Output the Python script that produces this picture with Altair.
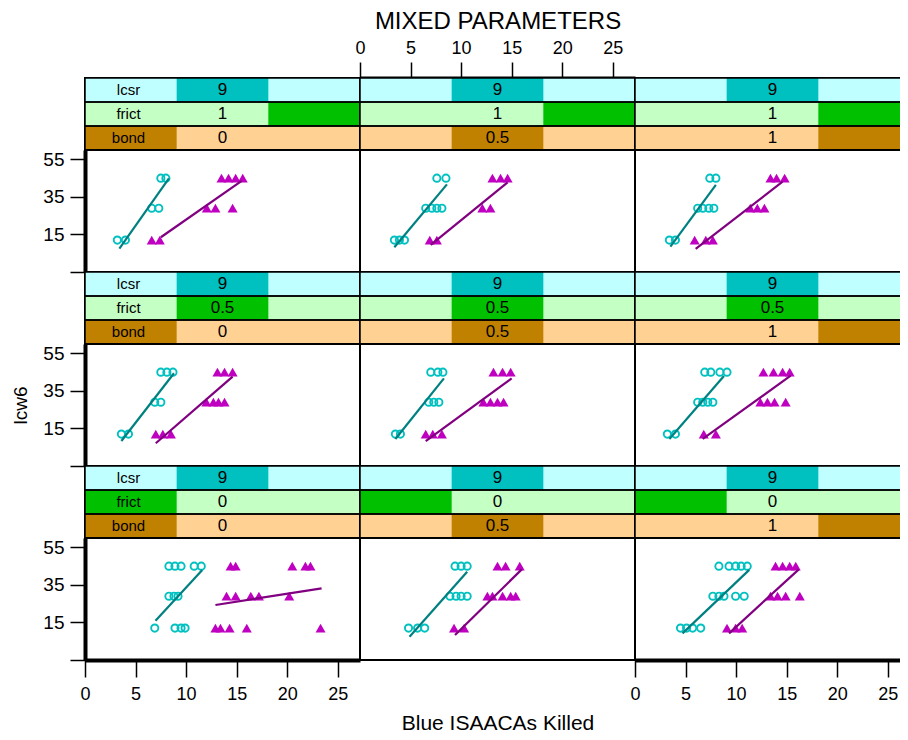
import altair as alt
import pandas as pd

FONT = "Liberation Sans, Arial, sans-serif"

# ---------------- axis / layout values ----------------
x_domain = [0, 27.2]
y_domain = [-5, 60]
x_ticks = [0, 5, 10, 15, 20, 25]
y_ticks = [-5, 15, 35, 55]
y_levels = [45, 29, 12]  # top, middle, bottom row of points

# ---------------- conditioning variables ----------------
frict_rows = [1, 0.5, 0]          # panel rows, top to bottom
frict_row_text = ["1", "0.5", "0"]
bond_cols = [0, 0.5, 1]           # panel columns, left to right
bond_col_text = ["0", "0.5", "1"]
frict_levels = [0, 0.5, 1]
bond_levels = [0, 0.5, 1]
lcsr_text = "9"
lcsr_level_index = 1
strip_names = ["lcsr", "frict", "bond"]
strip_light = ["#C0FFFF", "#C4FFC4", "#FFD293"]
strip_dark = ["#00C0C0", "#00C000", "#C08000"]

# ---------------- points: x values at y_levels (top, mid, low) ----------------
cyan_f1_b0 = [[7.5, 8.0], [6.6, 7.3], [3.2, 4.0]]
mag_f1_b0 = [[13.5, 14.2, 14.9, 15.6], [12.05, 12.9, 14.6], [6.6, 7.4]]
cyan_f1_b05 = [[7.6, 8.5], [6.5, 7.1, 7.6, 8.1], [3.4, 3.9, 4.4]]
mag_f1_b05 = [[13.1, 13.9, 14.6], [12.1, 12.9], [6.9, 7.6]]
cyan_f1_b1 = [[7.4, 8.0], [6.2, 6.7, 7.3, 7.8], [3.4, 4.0]]
mag_f1_b1 = [[13.4, 14.0, 14.8], [11.4, 12.1, 12.8], [5.9, 7.0, 7.7]]

cyan_f05_b0 = [[7.5, 8.1, 8.7], [6.9, 7.5], [3.6, 4.3]]
mag_f05_b0 = [[13.1, 13.8, 14.6], [12.0, 12.7, 13.2, 13.8], [7.0, 7.7, 8.5]]
cyan_f05_b05 = [[7.0, 7.7, 8.2], [6.8, 7.3, 7.8], [3.5, 4.0]]
mag_f05_b05 = [[13.2, 14.1, 14.9], [12.2, 12.9, 13.6, 14.2], [6.5, 7.2, 8.1]]
cyan_f05_b1 = [[6.9, 7.5, 8.4, 9.1], [6.2, 6.7, 7.2, 7.7], [3.2, 4.0]]
mag_f05_b1 = [[12.7, 13.7, 14.6, 15.3], [12.4, 13.1, 13.8, 14.9], [6.8, 8.0]]

cyan_f0_b0 = [[8.3, 8.9, 9.5, 10.8, 11.5], [8.3, 8.8, 9.2], [6.9, 8.9, 9.5, 9.9]]
mag_f0_b0 = [[14.4, 14.9, 20.5, 21.8, 22.3], [14.0, 14.9, 16.4, 17.2, 20.2],
             [12.9, 13.4, 14.3, 16.0, 23.3]]
cyan_f0_b05 = [[9.4, 10.0, 10.6], [8.9, 9.5, 10.0, 10.6], [4.8, 5.7, 6.4]]
mag_f0_b05 = [[13.6, 14.4, 15.8], [12.6, 13.1, 14.1, 14.9, 15.4], [9.3, 10.3]]
cyan_f0_b1 = [[8.3, 9.3, 9.95, 10.5, 11.1], [7.7, 8.3, 8.8, 9.95, 10.8], [4.5, 5.1, 5.7, 6.5]]
mag_f0_b1 = [[13.9, 14.6, 15.3, 15.9], [13.4, 14.1, 14.9, 16.3], [9.1, 9.95, 10.6]]

# ---------------- fitted lines: [x1, y1, x2, y2] ----------------
cyan_line_f1_b0 = [3.4, 7.4, 8.3, 44.9]
mag_line_f1_b0 = [7.5, 13.5, 15.5, 43.5]
cyan_line_f1_b05 = [3.4, 8.2, 8.6, 41.7]
mag_line_f1_b05 = [7.0, 9.4, 14.6, 42.8]
cyan_line_f1_b1 = [3.5, 8.5, 8.0, 41.4]
mag_line_f1_b1 = [6.0, 7.3, 14.6, 43.1]
cyan_line_f05_b0 = [3.6, 8.3, 8.8, 44.4]
mag_line_f05_b0 = [7.0, 7.1, 14.6, 42.6]
cyan_line_f05_b05 = [3.5, 9.4, 8.3, 41.7]
mag_line_f05_b05 = [6.5, 8.3, 15.0, 41.7]
cyan_line_f05_b1 = [3.4, 9.4, 8.8, 43.0]
mag_line_f05_b1 = [6.7, 9.4, 15.4, 43.1]
cyan_line_f0_b0 = [6.97, 15.9, 11.6, 43.0]
mag_line_f0_b0 = [12.9, 24.3, 23.4, 33.2]
cyan_line_f0_b05 = [4.9, 7.4, 10.6, 42.0]
mag_line_f0_b05 = [9.4, 8.3, 16.0, 43.3]
cyan_line_f0_b1 = [4.7, 9.2, 11.3, 43.0]
mag_line_f0_b1 = [9.3, 9.2, 16.2, 43.3]

panel_points = {
    (0, 0): (cyan_f1_b0, mag_f1_b0, cyan_line_f1_b0, mag_line_f1_b0),
    (0, 1): (cyan_f1_b05, mag_f1_b05, cyan_line_f1_b05, mag_line_f1_b05),
    (0, 2): (cyan_f1_b1, mag_f1_b1, cyan_line_f1_b1, mag_line_f1_b1),
    (1, 0): (cyan_f05_b0, mag_f05_b0, cyan_line_f05_b0, mag_line_f05_b0),
    (1, 1): (cyan_f05_b05, mag_f05_b05, cyan_line_f05_b05, mag_line_f05_b05),
    (1, 2): (cyan_f05_b1, mag_f05_b1, cyan_line_f05_b1, mag_line_f05_b1),
    (2, 0): (cyan_f0_b0, mag_f0_b0, cyan_line_f0_b0, mag_line_f0_b0),
    (2, 1): (cyan_f0_b05, mag_f0_b05, cyan_line_f0_b05, mag_line_f0_b05),
    (2, 2): (cyan_f0_b1, mag_f0_b1, cyan_line_f0_b1, mag_line_f0_b1),
}

PANEL_W = 275
STRIP_H = 72
PLOT_H = 122

xs = alt.Scale(domain=x_domain, nice=False, zero=False)
ys = alt.Scale(domain=y_domain, nice=False, zero=False)


def points_df(levels_lists):
    rows = []
    for yv, xl in zip(y_levels, levels_lists):
        for xv in xl:
            rows.append({"x": xv, "y": yv})
    return pd.DataFrame(rows)


def line_df(seg):
    return pd.DataFrame([{"x1": seg[0], "y1": seg[1], "x2": seg[2], "y2": seg[3]}])


def strip_panel(r, c):
    third = x_domain[1] / 3
    fi = frict_levels.index(frict_rows[r])
    bi = bond_levels.index(bond_cols[c])
    idx = [lcsr_level_index, fi, bi]
    df = pd.DataFrame({
        "var": strip_names,
        "lo": [third * i for i in idx],
        "hi": [third * (i + 1) for i in idx],
        "bg0": [x_domain[0]] * 3,
        "bg1": [x_domain[1]] * 3,
        "val": [lcsr_text, frict_row_text[r], bond_col_text[c]],
        "name": strip_names,
        "mid": [x_domain[1] / 2] * 3,
        "namex": [4.3] * 3,
        "light": strip_light,
        "dark": strip_dark,
    })
    if r == 0 and c == 1:
        xaxis = alt.Axis(orient="top", values=x_ticks, title="MIXED PARAMETERS",
                         titleFontSize=24, titleFontWeight="normal", titlePadding=6,
                         labelFontSize=18, labelPadding=5, tickSize=16, tickWidth=1.5,
                         domainWidth=4, grid=False, labelFlush=False, format="d")
    else:
        xaxis = None
    y = alt.Y("var:N", sort=strip_names, axis=None,
              scale=alt.Scale(paddingInner=0, paddingOuter=0))
    base = alt.Chart(df)
    bg = base.mark_rect().encode(
        x=alt.X("bg0:Q", scale=xs, axis=xaxis), x2="bg1:Q", y=y,
        color=alt.Color("light:N", scale=None))
    dark = base.mark_rect().encode(
        x=alt.X("lo:Q", scale=xs, axis=xaxis), x2="hi:Q", y=y,
        color=alt.Color("dark:N", scale=None))
    border = base.mark_rect(fillOpacity=0, stroke="black", strokeWidth=1.5).encode(
        x=alt.X("bg0:Q", scale=xs, axis=xaxis), x2="bg1:Q", y=y)
    txt = base.mark_text(font=FONT, fontSize=17, color="black", baseline="middle").encode(
        x=alt.X("mid:Q", scale=xs, axis=xaxis), y=y, text="val:N")
    layers = [bg, dark, border, txt]
    if c == 0:
        names = base.mark_text(font=FONT, fontSize=15, color="black", baseline="middle").encode(
            x=alt.X("namex:Q", scale=xs, axis=xaxis), y=y, text="name:N")
        layers.append(names)
    return alt.layer(*layers).properties(width=PANEL_W, height=STRIP_H)


def plot_panel(r, c):
    cyan, mag, cl, ml = panel_points[(r, c)]
    if r == 2 and c in (0, 2):
        xaxis = alt.Axis(orient="bottom", values=x_ticks, title=None, tickSize=17,
                         tickWidth=1.5, labelFontSize=18, labelPadding=8, domainWidth=4,
                         grid=False, labelFlush=False, format="d")
    elif r == 2 and c == 1:
        xaxis = alt.Axis(orient="bottom", title="Blue ISAACAs Killed", ticks=False,
                         labels=False, domain=False, grid=False, titleFontSize=21,
                         titleFontWeight="normal", titlePadding=52)
    else:
        xaxis = None
    if c == 0:
        kw = dict(values=y_ticks, labelExpr="datum.value == -5 ? '' : datum.label",
                  tickSize=15, tickWidth=1.5, labelFontSize=19, labelPadding=6,
                  domainWidth=4, grid=False, labelFlush=False, format="d")
        if r == 1:
            kw.update(title="lcw6", titleFontSize=19, titleFontWeight="normal", titlePadding=12)
        else:
            kw.update(title=None)
        yaxis = alt.Axis(**kw)
    else:
        yaxis = None

    X = lambda f: alt.X(f, scale=xs, axis=xaxis)
    Y = lambda f: alt.Y(f, scale=ys, axis=yaxis)

    circ = alt.Chart(points_df(cyan)).mark_point(
        shape="circle", filled=False, size=52, strokeWidth=1.9, color="#00C0C0", opacity=1
    ).encode(x=X("x:Q"), y=Y("y:Q"))
    tri = alt.Chart(points_df(mag)).mark_point(
        shape="triangle-up", filled=True, size=100, color="#C000C0", opacity=1
    ).encode(x=X("x:Q"), y=Y("y:Q"))
    cline = alt.Chart(line_df(cl)).mark_rule(color="#008080", strokeWidth=2.2).encode(
        x=X("x1:Q"), y=Y("y1:Q"), x2="x2:Q", y2="y2:Q")
    mline = alt.Chart(line_df(ml)).mark_rule(color="#800080", strokeWidth=2.2).encode(
        x=X("x1:Q"), y=Y("y1:Q"), x2="x2:Q", y2="y2:Q")
    return alt.layer(circ, tri, cline, mline).properties(width=PANEL_W, height=PLOT_H)


cells = []
for r in range(3):
    for c in range(3):
        cells.append(strip_panel(r, c))
    for c in range(3):
        cells.append(plot_panel(r, c))

chart = alt.concat(*cells, columns=3, spacing=0, bounds="flush", align="each").properties(
    padding={"left": 2, "top": 0, "right": -12, "bottom": 0}
).configure_view(
    stroke="black", strokeWidth=2
).configure_axis(
    labelFont=FONT, titleFont=FONT, labelColor="black", titleColor="black",
    domainColor="black", tickColor="black"
)

chart.save("out.html", embed_options={"renderer": "svg", "actions": False})
